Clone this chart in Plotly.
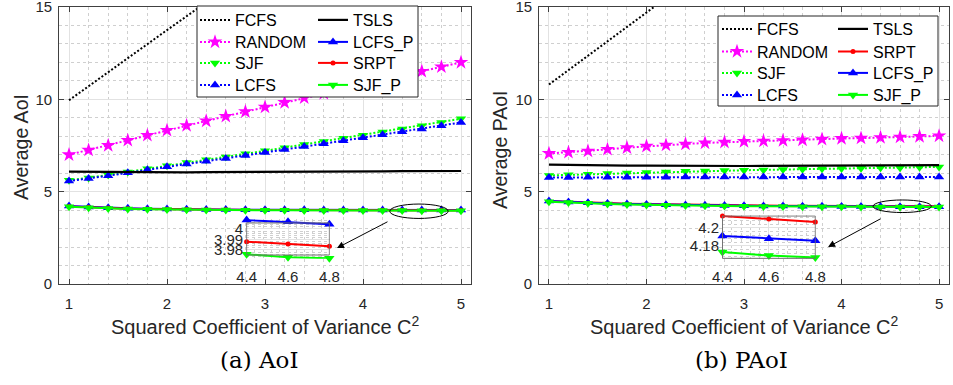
import plotly.graph_objects as go

W, H = 953, 385
SANS = "Liberation Sans, Arial, sans-serif"
SERIF = "DejaVu Serif, serif"

# ---------------- data ----------------
C2 = [1.0, 1.2, 1.4, 1.6, 1.8, 2.0, 2.2, 2.4, 2.6, 2.8, 3.0,
      3.2, 3.4, 3.6, 3.8, 4.0, 4.2, 4.4, 4.6, 4.8, 5.0]

# (a) Average AoI
aoi_FCFS = [9.95, 10.72, 11.49, 12.26, 13.0, 13.75, 14.5, 15.25, 16.0, 16.75, 17.5,
            18.25, 19.0, 19.75, 20.5, 21.25, 22.0, 22.75, 23.5, 24.25, 25.0]
aoi_RANDOM = [7.0, 7.25, 7.5, 7.78, 8.05, 8.32, 8.58, 8.83, 9.08, 9.33, 9.58,
              9.83, 10.08, 10.32, 10.56, 10.8, 11.04, 11.28, 11.52, 11.76, 12.0]
aoi_SJF = [5.62, 5.74, 5.9, 6.07, 6.24, 6.41, 6.58, 6.73, 6.88, 7.05, 7.21,
           7.38, 7.55, 7.72, 7.89, 8.06, 8.23, 8.4, 8.57, 8.75, 8.95]
aoi_LCFS = [5.58, 5.71, 5.86, 6.02, 6.19, 6.35, 6.5, 6.65, 6.8, 6.96, 7.12,
            7.28, 7.44, 7.6, 7.76, 7.92, 8.08, 8.24, 8.4, 8.57, 8.75]
aoi_TSLS = [6.08, 6.07, 6.06, 6.06, 6.05, 6.05, 6.05, 6.06, 6.06, 6.07, 6.07,
            6.08, 6.08, 6.09, 6.09, 6.10, 6.10, 6.11, 6.11, 6.12, 6.12]
aoi_LCFS_P = [4.22, 4.17, 4.13, 4.10, 4.08, 4.062, 4.05, 4.04, 4.033, 4.027, 4.022,
              4.018, 4.015, 4.013, 4.0115, 4.01, 4.009, 4.0085, 4.0068, 4.0045, 4.003]
aoi_SRPT = [4.20, 4.15, 4.11, 4.08, 4.06, 4.045, 4.033, 4.024, 4.016, 4.01, 4.005,
            4.001, 3.998, 3.995, 3.993, 3.991, 3.9895, 3.9879, 3.9857, 3.9835, 3.982]
aoi_SJF_P = [4.18, 4.13, 4.09, 4.065, 4.045, 4.03, 4.019, 4.01, 4.002, 3.996, 3.991,
             3.987, 3.984, 3.982, 3.98, 3.978, 3.977, 3.9759, 3.9731, 3.9721, 3.971]

# (b) Average PAoI
paoi_FCFS = [10.8, 11.58, 12.36, 13.14, 13.92, 14.7, 15.48, 16.26, 17.04, 17.82, 18.6,
             19.38, 20.16, 20.94, 21.72, 22.5, 23.28, 24.06, 24.84, 25.62, 26.4]
paoi_RANDOM = [7.07, 7.13, 7.2, 7.29, 7.38, 7.46, 7.52, 7.58, 7.64, 7.68, 7.72,
               7.74, 7.77, 7.8, 7.84, 7.88, 7.9, 7.93, 7.96, 7.99, 8.02]
paoi_SJF = [5.88, 5.91, 5.94, 5.98, 6.01, 6.04, 6.07, 6.1, 6.12, 6.14, 6.16,
            6.18, 6.2, 6.22, 6.24, 6.25, 6.27, 6.29, 6.3, 6.32, 6.34]
paoi_LCFS = [5.77, 5.77, 5.78, 5.78, 5.78, 5.78, 5.78, 5.79, 5.79, 5.79, 5.79,
             5.79, 5.79, 5.8, 5.8, 5.8, 5.8, 5.8, 5.8, 5.8, 5.8]
paoi_TSLS = [6.46, 6.44, 6.43, 6.42, 6.41, 6.41, 6.4, 6.4, 6.4, 6.39, 6.39,
             6.4, 6.4, 6.4, 6.41, 6.41, 6.42, 6.42, 6.43, 6.43, 6.44]
paoi_SRPT = [4.50, 4.45, 4.41, 4.38, 4.35, 4.33, 4.31, 4.295, 4.28, 4.268, 4.257,
             4.247, 4.238, 4.231, 4.225, 4.22, 4.216, 4.2133, 4.21, 4.2067, 4.204]
paoi_LCFS_P = [4.49, 4.44, 4.40, 4.36, 4.33, 4.31, 4.29, 4.274, 4.26, 4.248, 4.237,
               4.227, 4.218, 4.21, 4.204, 4.199, 4.195, 4.1911, 4.1881, 4.1859, 4.184]
paoi_SJF_P = [4.46, 4.41, 4.37, 4.335, 4.305, 4.28, 4.26, 4.245, 4.232, 4.22, 4.21,
              4.201, 4.194, 4.188, 4.183, 4.179, 4.176, 4.1732, 4.1694, 4.1672, 4.165]

ZOOM = slice(17, 20)          # C2 = 4.4, 4.6, 4.8 shown in the insets
main_xticks = [1, 2, 3, 4, 5]
main_yticks = [0, 5, 10, 15]
inset_xticks = [4.4, 4.6, 4.8]
inset_xtext = ["4.4", "4.6", "4.8"]
aoi_inset_yticks = [3.98, 3.99, 4.0]
aoi_inset_ytext = ["3.98", "3.99", "4"]
paoi_inset_yticks = [4.18, 4.2]
paoi_inset_ytext = ["4.18", "4.2"]

# ---------------- styles ----------------
DOT = "2px,2px"
STY = {
    "FCFS":   dict(color="black",   dash=DOT,     symbol=None,            size=0,  width=2),
    "RANDOM": dict(color="#ff00ff", dash=DOT,     symbol="star",          size=11, width=2),
    "SJF":    dict(color="#00ff00", dash=DOT,     symbol="triangle-down", size=9,  width=2),
    "LCFS":   dict(color="#0000ff", dash=DOT,     symbol="triangle-up",   size=9,  width=2),
    "TSLS":   dict(color="black",   dash="solid", symbol=None,            size=0,  width=2.2),
    "LCFS_P": dict(color="#0000ff", dash="solid", symbol="triangle-up",   size=9,  width=2),
    "SRPT":   dict(color="#ff0000", dash="solid", symbol="circle",        size=5,  width=2),
    "SJF_P":  dict(color="#00ff00", dash="solid", symbol="triangle-down", size=9,  width=2),
}


def px(x):
    return x / W


def py(y):
    return 1 - y / H


fig = go.Figure()
legend_layout = {}
LEG = dict(bgcolor="rgba(0,0,0,0)", borderwidth=0, xanchor="left", yanchor="middle",
           font=dict(family=SANS, size=16, color="black"))
_leg_count = [0]


def new_legend(xpix, ypix):
    _leg_count[0] += 1
    n = _leg_count[0]
    key = "legend" if n == 1 else "legend%d" % n
    legend_layout[key] = dict(LEG, x=px(xpix), y=py(ypix))
    return key


def add(name, x, y, xa, ya, legend=None, show=True, clip=True):
    s = STY[name]
    mode = "lines+markers" if s["symbol"] else "lines"
    kw = dict(x=x, y=y, name=name, mode=mode, xaxis=xa, yaxis=ya,
              line=dict(color=s["color"], dash=s["dash"], width=s["width"]),
              showlegend=show, cliponaxis=clip)
    if s["symbol"]:
        kw["marker"] = dict(symbol=s["symbol"], size=s["size"], color=s["color"],
                            line=dict(width=0))
    if legend:
        kw["legend"] = legend
    fig.add_trace(go.Scatter(**kw))


L_ROWS = [20, 42, 63, 85]
R_ROWS = [29, 51.5, 73, 95]

# left panel (a)
add("FCFS", C2, aoi_FCFS, "x", "y", new_legend(195, L_ROWS[0]))
add("RANDOM", C2, aoi_RANDOM, "x", "y", new_legend(195, L_ROWS[1]))
add("SJF", C2, aoi_SJF, "x", "y", new_legend(195, L_ROWS[2]))
add("LCFS", C2, aoi_LCFS, "x", "y", new_legend(195, L_ROWS[3]))
add("TSLS", C2, aoi_TSLS, "x", "y", new_legend(313, L_ROWS[0]))
add("LCFS_P", C2, aoi_LCFS_P, "x", "y", new_legend(313, L_ROWS[1]))
add("SRPT", C2, aoi_SRPT, "x", "y", new_legend(313, L_ROWS[2]))
add("SJF_P", C2, aoi_SJF_P, "x", "y", new_legend(313, L_ROWS[3]))

# right panel (b)
add("FCFS", C2, paoi_FCFS, "x2", "y2", new_legend(717, R_ROWS[0]))
add("RANDOM", C2, paoi_RANDOM, "x2", "y2", new_legend(717, R_ROWS[1]))
add("SJF", C2, paoi_SJF, "x2", "y2", new_legend(717, R_ROWS[2]))
add("LCFS", C2, paoi_LCFS, "x2", "y2", new_legend(717, R_ROWS[3]))
add("TSLS", C2, paoi_TSLS, "x2", "y2", new_legend(833, R_ROWS[0]))
add("SRPT", C2, paoi_SRPT, "x2", "y2", new_legend(833, R_ROWS[1]))
add("LCFS_P", C2, paoi_LCFS_P, "x2", "y2", new_legend(833, R_ROWS[2]))
add("SJF_P", C2, paoi_SJF_P, "x2", "y2", new_legend(833, R_ROWS[3]))

# insets
add("LCFS_P", C2[ZOOM], aoi_LCFS_P[ZOOM], "x3", "y3", show=False, clip=False)
add("SRPT", C2[ZOOM], aoi_SRPT[ZOOM], "x3", "y3", show=False, clip=False)
add("SJF_P", C2[ZOOM], aoi_SJF_P[ZOOM], "x3", "y3", show=False, clip=False)
add("SRPT", C2[ZOOM], paoi_SRPT[ZOOM], "x4", "y4", show=False, clip=False)
add("LCFS_P", C2[ZOOM], paoi_LCFS_P[ZOOM], "x4", "y4", show=False, clip=False)
add("SJF_P", C2[ZOOM], paoi_SJF_P[ZOOM], "x4", "y4", show=False, clip=False)

AX = "#404040"
GRID = "#e2e2e2"
MGRID = "#cfcfcf"
TF = dict(family=SANS, size=15, color="#262626")


def main_x(dom, anchor):
    return dict(domain=dom, anchor=anchor, range=[0.9, 5.1], tickvals=main_xticks,
                ticks="inside", ticklen=5, tickcolor=AX, showline=True, linecolor=AX,
                linewidth=1, mirror="ticks", showgrid=True, gridcolor=GRID, gridwidth=1,
                minor=dict(dtick=0.2, tick0=0, showgrid=True, gridcolor=MGRID,
                           griddash="dot", gridwidth=1),
                zeroline=False, tickfont=TF, ticklabelstandoff=6,
                automargin=False, ticklabeloverflow="allow")


def main_y(dom, anchor):
    return dict(domain=dom, anchor=anchor, range=[0, 15], tickvals=main_yticks,
                ticks="inside", ticklen=5, tickcolor=AX, showline=True, linecolor=AX,
                linewidth=1, mirror="ticks", showgrid=True, gridcolor=GRID, gridwidth=1,
                minor=dict(dtick=1, tick0=0, showgrid=True, gridcolor=MGRID,
                           griddash="dot", gridwidth=1),
                zeroline=False, tickfont=TF, ticklabelstandoff=3,
                automargin=False, ticklabeloverflow="allow")


def inset_x(dom, anchor, rng):
    return dict(domain=dom, anchor=anchor, range=rng, tickvals=inset_xticks,
                ticktext=inset_xtext, ticks="", showline=False, showgrid=True,
                gridcolor=GRID, minor=dict(dtick=0.04, tick0=4.4, showgrid=True,
                                           gridcolor=MGRID, griddash="dot"),
                zeroline=False, tickfont=TF, ticklabelstandoff=7,
                automargin=False, ticklabeloverflow="allow")


def inset_y(dom, anchor, rng, tv, tt, md):
    return dict(domain=dom, anchor=anchor, range=rng, tickvals=tv, ticktext=tt,
                ticks="", showline=False, showgrid=True, gridcolor=GRID,
                minor=dict(dtick=md, tick0=tv[0], showgrid=True, gridcolor=MGRID,
                           griddash="dot"),
                zeroline=False, tickfont=TF, ticklabelstandoff=2,
                automargin=False, ticklabeloverflow="allow")


ydom = [py(284), py(7)]
aoi_in_rng = [3.9716, 4.0092]
paoi_in_rng = [4.1655, 4.2142]
fig.update_layout(
    width=W, height=H, margin=dict(l=0, r=0, t=0, b=0, autoexpand=False),
    paper_bgcolor="white", plot_bgcolor="white",
    xaxis=main_x([px(59.2), px(470.8)], "y"),
    yaxis=main_y(ydom, "x"),
    xaxis2=main_x([px(539.2), px(948.8)], "y2"),
    yaxis2=main_y(ydom, "x2"),
    xaxis3=inset_x([px(246.2), px(329.8)], "y3", [4.398, 4.802]),
    yaxis3=inset_y([py(258.8), py(219.3)], "x3", aoi_in_rng,
                   aoi_inset_yticks, aoi_inset_ytext, 0.002),
    xaxis4=inset_x([px(722.0), px(815.8)], "y4", [4.398, 4.802]),
    yaxis4=inset_y([py(259.05), py(215.2)], "x4", paoi_in_rng,
                   paoi_inset_yticks, paoi_inset_ytext, 0.004),
    showlegend=True,
    **legend_layout,
)

shapes = [
    # legend frames
    dict(type="rect", xref="paper", yref="paper", x0=px(197), x1=px(418), y0=py(97), y1=py(6),
         fillcolor="white", line=dict(color="#262626", width=1), layer="above"),
    dict(type="rect", xref="paper", yref="paper", x0=px(718), x1=px(938), y0=py(106), y1=py(16),
         fillcolor="white", line=dict(color="#262626", width=1), layer="above"),
    # inset backgrounds / frames
    dict(type="rect", xref="x3", yref="y3", x0=4.4, x1=4.8, y0=3.9752, y1=4.0057,
         fillcolor="white", line=dict(width=0), layer="below"),
    dict(type="rect", xref="x3", yref="y3", x0=4.4, x1=4.8, y0=3.9752, y1=4.0057,
         line=dict(color="#6e6e6e", width=1), layer="above"),
    dict(type="rect", xref="x4", yref="y4", x0=4.4, x1=4.8, y0=4.1663, y1=4.2133,
         fillcolor="white", line=dict(width=0), layer="below"),
    dict(type="rect", xref="x4", yref="y4", x0=4.4, x1=4.8, y0=4.1663, y1=4.2133,
         line=dict(color="#6e6e6e", width=1), layer="above"),
    # ellipses marking the zoomed region
    dict(type="circle", xref="x", yref="y", x0=4.273, x1=4.869, y0=3.55, y1=4.33,
         line=dict(color="black", width=1), layer="above"),
    dict(type="circle", xref="x2", yref="y2", x0=4.323, x1=4.921, y0=3.87, y1=4.55,
         line=dict(color="black", width=1), layer="above"),
]
fig.update_layout(shapes=shapes)

CEN = dict(xref="paper", yref="paper", showarrow=False, xanchor="center", yanchor="middle")
ann = [
    dict(x=3.735, y=1.949, ax=4.265, ay=3.411, xref="x", yref="y", axref="x", ayref="y",
         showarrow=True, arrowhead=2, arrowsize=1.4, arrowwidth=1, arrowcolor="black", text=""),
    dict(x=3.862, y=2.003, ax=4.415, ay=3.573, xref="x2", yref="y2", axref="x2", ayref="y2",
         showarrow=True, arrowhead=2, arrowsize=1.4, arrowwidth=1, arrowcolor="black", text=""),
    dict(CEN, text="Average AoI", x=px(21), y=py(147), textangle=-90,
         font=dict(family=SANS, size=19.5, color="#262626")),
    dict(CEN, text="Average PAoI", x=px(500), y=py(150), textangle=-90,
         font=dict(family=SANS, size=19.5, color="#262626")),
    dict(CEN, text="Squared Coefficient of Variance C<sup>2</sup>", x=px(265), y=py(325),
         font=dict(family=SANS, size=20, color="#262626")),
    dict(CEN, text="Squared Coefficient of Variance C<sup>2</sup>", x=px(744), y=py(325),
         font=dict(family=SANS, size=20, color="#262626")),
    dict(CEN, text="(a) AoI", x=px(259), y=py(360),
         font=dict(family=SERIF, size=23, color="black")),
    dict(CEN, text="(b) PAoI", x=px(741), y=py(360),
         font=dict(family=SERIF, size=23, color="black")),
]
fig.update_layout(annotations=ann)

fig.write_html("out.html")
